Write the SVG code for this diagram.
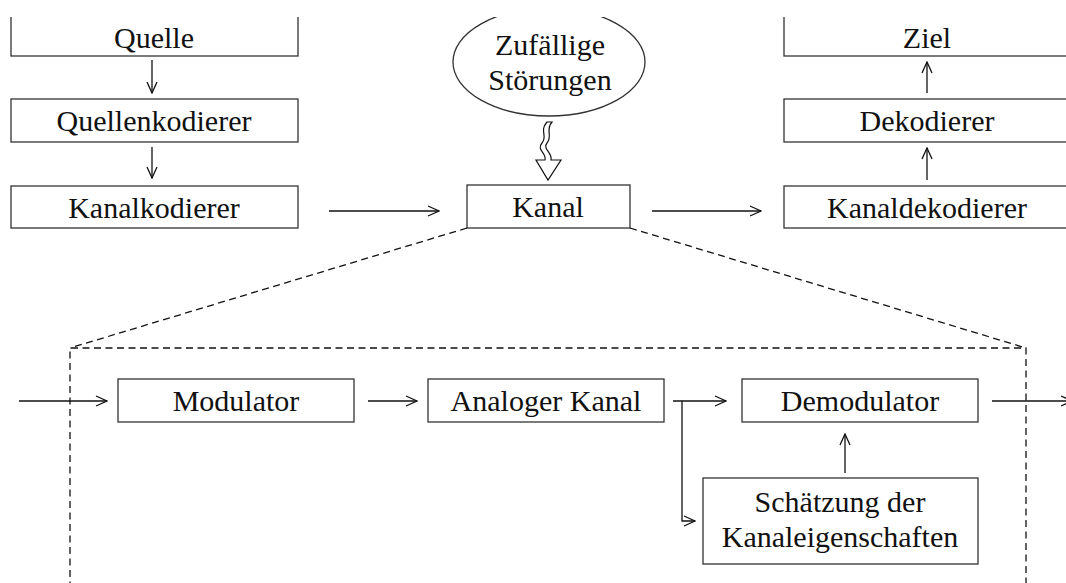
<svg xmlns="http://www.w3.org/2000/svg" width="1066" height="583" viewBox="0 0 1066 583">
<style>
  .box { fill: none; stroke: #333; stroke-width: 1.3; }
  .lbl { font-family: "Liberation Serif", "Times New Roman", serif; font-size: 30px; fill: #111; text-anchor: middle; }
  .con { fill: none; stroke: #111; stroke-width: 1.3; }
  .dash { fill: none; stroke: #111; stroke-width: 1.3; stroke-dasharray: 7 4.5; }
</style>
<defs>
  <marker id="ah" markerWidth="13" markerHeight="13" refX="12" refY="6.5" orient="auto" markerUnits="userSpaceOnUse">
    <path d="M1,1.5 L12,6.5 L1,11.5" fill="none" stroke="#111" stroke-width="1.3"/>
  </marker>
  <clipPath id="topclip"><rect x="0" y="17" width="1066" height="566"/></clipPath>
</defs>
<rect width="1066" height="583" fill="#fff"/>

<g id="quelle" clip-path="url(#topclip)">
  <rect class="box" x="11" y="0" width="287" height="56"/>
  <text class="lbl" x="154" y="48">Quelle</text>
</g>
<g id="quellenkodierer">
  <rect class="box" x="11" y="99" width="287" height="43"/>
  <text class="lbl" x="154" y="131">Quellenkodierer</text>
</g>
<g id="kanalkodierer">
  <rect class="box" x="11" y="186" width="287" height="42"/>
  <text class="lbl" x="154" y="218">Kanalkodierer</text>
</g>
<g id="stoerungen" clip-path="url(#topclip)">
  <ellipse class="box" cx="549" cy="62" rx="96" ry="54"/>
  <text class="lbl" x="550" y="55">Zufällige</text>
  <text class="lbl" x="550" y="90">Störungen</text>
</g>
<g id="kanal">
  <rect class="box" x="467" y="185" width="163" height="43"/>
  <text class="lbl" x="548" y="217">Kanal</text>
</g>
<g id="ziel" clip-path="url(#topclip)">
  <rect class="box" x="784" y="0" width="290" height="56"/>
  <text class="lbl" x="927" y="48">Ziel</text>
</g>
<g id="dekodierer">
  <rect class="box" x="784" y="99" width="290" height="43"/>
  <text class="lbl" x="927" y="131">Dekodierer</text>
</g>
<g id="kanaldekodierer">
  <rect class="box" x="784" y="186" width="290" height="42"/>
  <text class="lbl" x="927" y="218">Kanaldekodierer</text>
</g>
<g id="modulator">
  <rect class="box" x="118" y="379" width="236" height="43"/>
  <text class="lbl" x="236" y="411">Modulator</text>
</g>
<g id="analoger-kanal">
  <rect class="box" x="428" y="379" width="236" height="43"/>
  <text class="lbl" x="546" y="411">Analoger Kanal</text>
</g>
<g id="demodulator">
  <rect class="box" x="742" y="379" width="236" height="43"/>
  <text class="lbl" x="860" y="411">Demodulator</text>
</g>
<g id="schaetzung">
  <rect class="box" x="703" y="478" width="275" height="86"/>
  <text class="lbl" x="840" y="512">Schätzung der</text>
  <text class="lbl" x="840" y="547">Kanaleigenschaften</text>
</g>

<g id="connectors">
  <line class="con" x1="152" y1="60" x2="152" y2="93" marker-end="url(#ah)"/>
  <line class="con" x1="152" y1="147" x2="152" y2="178" marker-end="url(#ah)"/>
  <line class="con" x1="329" y1="211" x2="439" y2="211" marker-end="url(#ah)"/>
  <line class="con" x1="652" y1="211" x2="761" y2="211" marker-end="url(#ah)"/>
  <line class="con" x1="927" y1="180" x2="927" y2="148" marker-end="url(#ah)"/>
  <line class="con" x1="927" y1="93" x2="927" y2="62" marker-end="url(#ah)"/>
  <path d="M547,122 C539,131 548,136 542,143 C536,150 547,153 545,160 L536,160 L548,180 L561,160 L551,160 C553,153 542,149 547,143 C553,136 545,130 552,122 Z" fill="#fff" stroke="#111" stroke-width="1.2"/>
  <line class="dash" x1="467" y1="228" x2="70" y2="348"/>
  <line class="dash" x1="630" y1="228" x2="1026" y2="348"/>
  <polyline class="dash" points="70,600 70,348 1026,348 1026,600"/>
  <line class="con" x1="19" y1="401" x2="107" y2="401" marker-end="url(#ah)"/>
  <line class="con" x1="368" y1="401" x2="417" y2="401" marker-end="url(#ah)"/>
  <line class="con" x1="673" y1="401" x2="726" y2="401" marker-end="url(#ah)"/>
  <polyline class="con" points="682,401 682,521 695,521" marker-end="url(#ah)"/>
  <line class="con" x1="845" y1="473" x2="845" y2="434" marker-end="url(#ah)"/>
  <line class="con" x1="992" y1="401" x2="1072" y2="401" marker-end="url(#ah)"/>
</g>
</svg>
